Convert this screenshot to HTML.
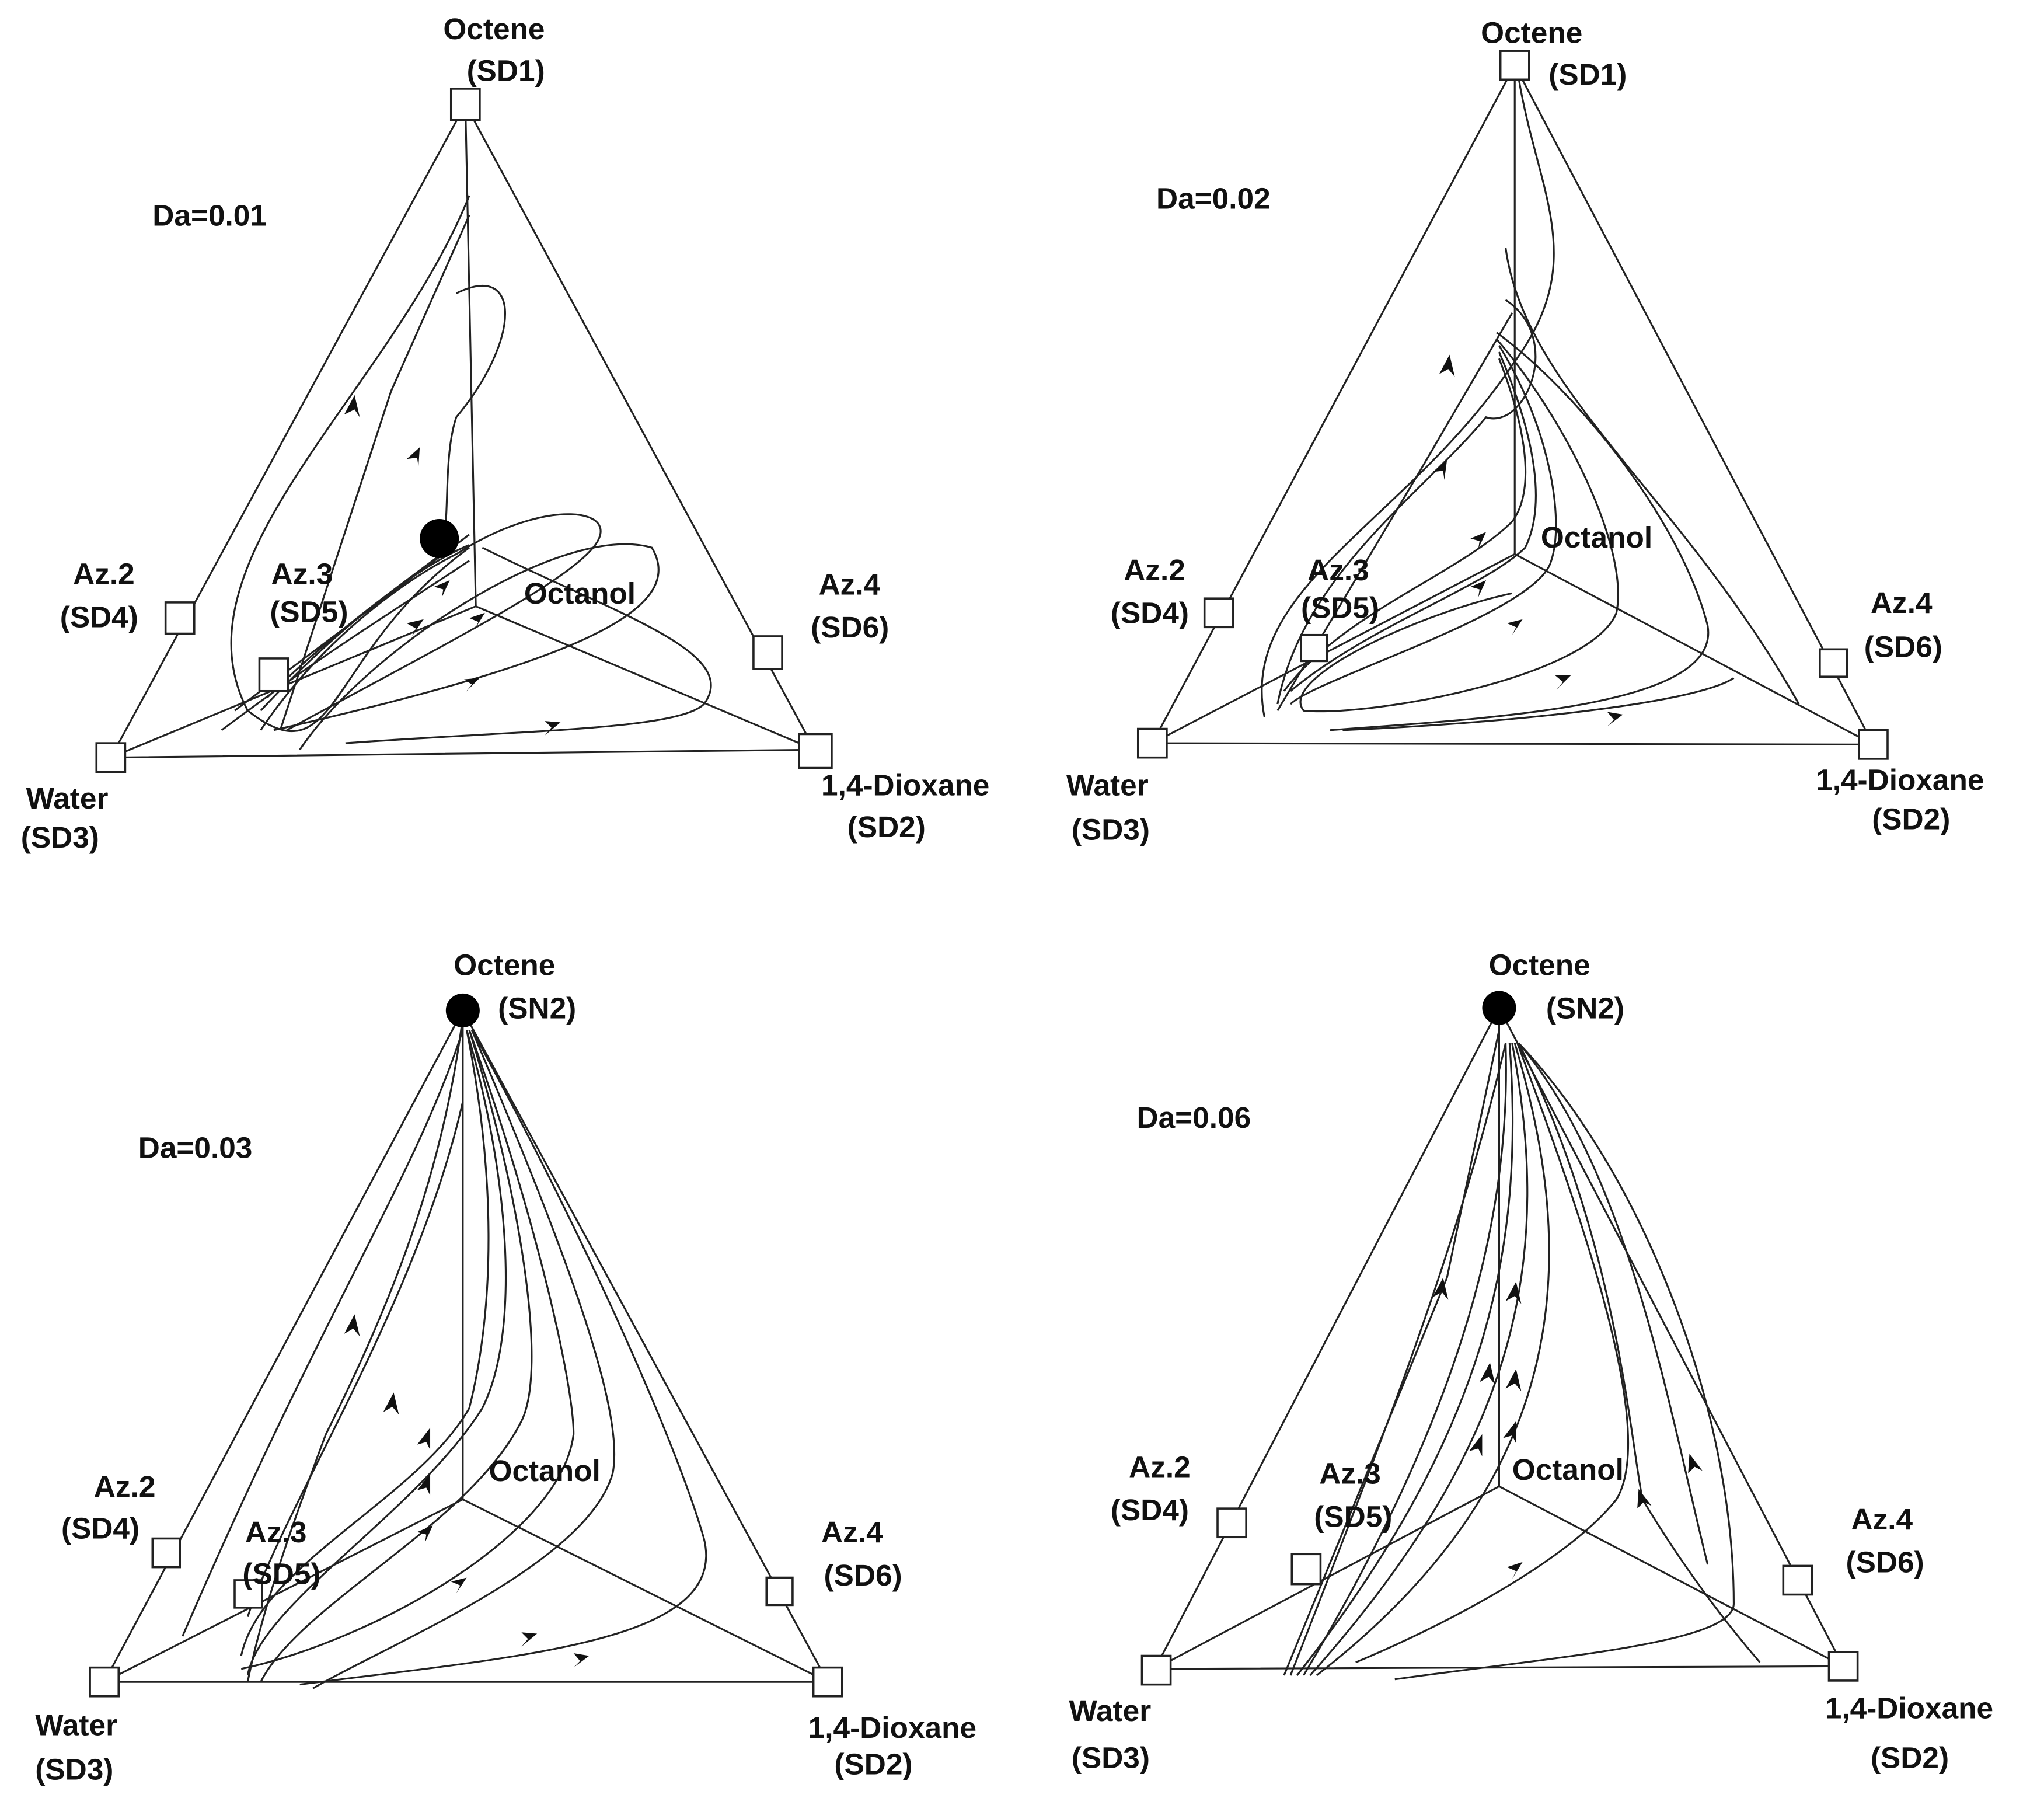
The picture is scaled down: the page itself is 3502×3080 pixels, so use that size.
<!DOCTYPE html>
<html><head><meta charset="utf-8">
<style>
html,body{margin:0;padding:0;background:#fff;}
svg{display:block;}
text{font-family:"Liberation Sans",Arial,sans-serif;font-size:23px;fill:#111;font-weight:bold;}
.l{fill:none;stroke:#222;stroke-width:1.4;}
.b{fill:#fff;stroke:#222;stroke-width:1.6;}
.a{fill:#111;}
</style></head>
<body>
<svg width="3502" height="3080" viewBox="0 0 1568 1379" xmlns="http://www.w3.org/2000/svg">
<rect width="1568" height="1379" fill="#fff"/>

<!-- Panel 1 -->
<g>
<path class="l" d="M357 80 L85 581 L625 575 Z"/>
<path class="l" d="M365 465 L357 80 M365 465 L85 581 M365 465 L625 575"/>
<path class="l" d="M360 150 C300 300 130 430 190 545 C260 600 250 500 360 420"/>
<path class="l" d="M350 225 C400 200 400 260 350 320 C340 350 345 400 340 410"/>
<path class="l" d="M200 560 C240 500 300 450 350 425 C420 380 480 390 455 420 C430 450 330 500 220 560"/>
<path class="l" d="M230 575 C280 500 430 400 500 420 C530 470 430 510 210 560"/>
<path class="l" d="M265 570 C400 560 520 560 540 540 C570 500 470 470 370 420"/>
<path class="l" d="M205 535 C260 480 320 440 345 420 M200 545 C270 470 330 430 360 418"/>
<path class="l" d="M215 560 L300 300 L360 165 M180 545 L360 410"/>
<path class="l" d="M170 560 C250 500 300 470 360 430"/>
<polygon class="a" points="272,303 264,318 272,314 276,320"/>
<polygon class="a" points="322,343 312,352 320,351 321,358"/>
<polygon class="a" points="345,445 333,450 340,452 339,458"/>
<polygon class="a" points="325,475 312,478 319,482 316,488"/>
<polygon class="a" points="372,470 360,474 367,477 364,483"/>
<polygon class="a" points="368,520 356,521 362,525 357,531"/>
<polygon class="a" points="430,554 418,553 423,558 418,564"/>
<circle cx="337" cy="413" r="15" fill="#000"/>
<rect class="b" x="346" y="68" width="22" height="24"/>
<rect class="b" x="74" y="570" width="22" height="22"/>
<rect class="b" x="613" y="563" width="25" height="26"/>
<rect class="b" x="127" y="462" width="22" height="24"/>
<rect class="b" x="199" y="505" width="22" height="25"/>
<rect class="b" x="578" y="488" width="22" height="25"/>
<text x="340" y="30">Octene</text><text x="358" y="62">(SD1)</text>
<text x="117" y="173">Da=0.01</text>
<text x="56" y="448">Az.2</text><text x="46" y="481">(SD4)</text>
<text x="208" y="448">Az.3</text><text x="207" y="477">(SD5)</text>
<text x="402" y="463">Octanol</text>
<text x="628" y="456">Az.4</text><text x="622" y="489">(SD6)</text>
<text x="20" y="620">Water</text><text x="16" y="650">(SD3)</text>
<text x="630" y="610">1,4-Dioxane</text><text x="650" y="642">(SD2)</text>
</g>

<!-- Panel 2 -->
<g>
<path class="l" d="M1162 50 L884 570 L1437 571 Z"/>
<path class="l" d="M1162 425 L1162 50 M1162 425 L884 570 M1162 425 L1437 571"/>
<path class="l" d="M1165 60 C1180 150 1220 200 1160 280 C1080 400 950 450 970 550"/>
<path class="l" d="M1155 190 C1170 300 1290 380 1380 540"/>
<path class="l" d="M1155 230 C1200 260 1170 330 1140 320 C1090 380 1000 440 980 540"/>
<path class="l" d="M1148 255 C1210 300 1290 400 1310 480 C1320 540 1160 550 1020 560"/>
<path class="l" d="M1148 260 C1200 320 1250 420 1240 470 C1220 520 1050 550 1000 545 C980 520 1090 470 1160 455"/>
<path class="l" d="M1150 265 C1190 330 1200 400 1190 430 C1180 470 1010 520 990 540"/>
<path class="l" d="M1150 270 C1180 340 1185 390 1170 420 C1140 450 1050 480 990 530"/>
<path class="l" d="M1150 275 C1175 340 1175 380 1160 400 C1120 440 1030 470 985 530"/>
<path class="l" d="M1030 560 C1150 555 1300 540 1330 520"/>
<path class="l" d="M980 545 L1090 360 L1160 240"/>
<polygon class="a" points="1112,272 1104,287 1111,283 1116,289"/>
<polygon class="a" points="1110,353 1099,362 1107,361 1108,368"/>
<polygon class="a" points="1140,408 1128,413 1135,415 1134,421"/>
<polygon class="a" points="1140,445 1128,450 1135,452 1134,458"/>
<polygon class="a" points="1168,475 1156,478 1163,481 1160,487"/>
<polygon class="a" points="1205,518 1193,518 1199,523 1194,529"/>
<polygon class="a" points="1245,548 1233,546 1238,552 1233,557"/>
<rect class="b" x="1151" y="39" width="22" height="22"/>
<rect class="b" x="873" y="559" width="22" height="22"/>
<rect class="b" x="1426" y="560" width="22" height="22"/>
<rect class="b" x="924" y="459" width="22" height="22"/>
<rect class="b" x="998" y="487" width="20" height="20"/>
<rect class="b" x="1396" y="498" width="21" height="21"/>
<text x="1136" y="33">Octene</text><text x="1188" y="65">(SD1)</text>
<text x="887" y="160">Da=0.02</text>
<text x="862" y="445">Az.2</text><text x="852" y="478">(SD4)</text>
<text x="1003" y="445">Az.3</text><text x="998" y="474">(SD5)</text>
<text x="1182" y="420">Octanol</text>
<text x="1435" y="470">Az.4</text><text x="1430" y="504">(SD6)</text>
<text x="818" y="610">Water</text><text x="822" y="644">(SD3)</text>
<text x="1393" y="606">1,4-Dioxane</text><text x="1436" y="636">(SD2)</text>
</g>

<!-- Panel 3 -->
<g>
<path class="l" d="M355 775 L80 1290 L635 1290 Z"/>
<path class="l" d="M355 1150 L355 775 M355 1150 L80 1290 M355 1150 L635 1290"/>
<path class="l" d="M355 790 C320 900 250 1000 140 1255"/>
<path class="l" d="M355 845 C320 1000 220 1150 190 1240"/>
<path class="l" d="M358 790 C380 900 380 1000 360 1080 C320 1150 200 1200 185 1270"/>
<path class="l" d="M358 790 C390 900 400 1020 370 1080 C320 1160 200 1230 190 1285"/>
<path class="l" d="M360 790 C400 920 420 1050 400 1090 C360 1170 230 1230 200 1290"/>
<path class="l" d="M360 790 C410 930 440 1060 440 1100 C430 1180 280 1260 185 1280"/>
<path class="l" d="M362 790 C430 950 480 1080 470 1130 C450 1200 300 1260 240 1295"/>
<path class="l" d="M362 790 C450 950 520 1110 540 1180 C560 1260 400 1270 230 1292"/>
<path class="l" d="M355 780 C340 900 300 1000 250 1100 C220 1180 200 1240 190 1290"/>
<polygon class="a" points="272,1008 264,1023 271,1019 276,1025"/>
<polygon class="a" points="302,1068 294,1083 301,1079 306,1085"/>
<polygon class="a" points="330,1095 320,1108 327,1106 330,1112"/>
<polygon class="a" points="330,1130 320,1143 327,1141 330,1147"/>
<polygon class="a" points="332,1170 320,1175 327,1177 326,1183"/>
<polygon class="a" points="358,1210 346,1213 353,1216 350,1222"/>
<polygon class="a" points="412,1253 400,1252 405,1257 400,1263"/>
<polygon class="a" points="452,1270 440,1268 445,1274 440,1279"/>
<circle cx="355" cy="775" r="13" fill="#000"/>
<rect class="b" x="69" y="1279" width="22" height="22"/>
<rect class="b" x="624" y="1279" width="22" height="22"/>
<rect class="b" x="117" y="1180" width="21" height="22"/>
<rect class="b" x="180" y="1212" width="21" height="21"/>
<rect class="b" x="588" y="1210" width="20" height="21"/>
<text x="348" y="748">Octene</text><text x="382" y="781">(SN2)</text>
<text x="106" y="888">Da=0.03</text>
<text x="72" y="1148">Az.2</text><text x="47" y="1180">(SD4)</text>
<text x="188" y="1183">Az.3</text><text x="186" y="1215">(SD5)</text>
<text x="375" y="1136">Octanol</text>
<text x="630" y="1183">Az.4</text><text x="632" y="1216">(SD6)</text>
<text x="27" y="1331">Water</text><text x="27" y="1365">(SD3)</text>
<text x="620" y="1333">1,4-Dioxane</text><text x="640" y="1361">(SD2)</text>
</g>

<!-- Panel 4 -->
<g>
<path class="l" d="M1150 773 L886 1280 L1414 1278 Z"/>
<path class="l" d="M1150 1140 L1150 773 M1150 1140 L886 1280 M1150 1140 L1414 1278"/>
<path class="l" d="M1155 800 C1120 950 1070 1080 990 1285"/>
<path class="l" d="M1155 800 C1160 950 1110 1100 1000 1285"/>
<path class="l" d="M1158 800 C1170 960 1140 1100 995 1285"/>
<path class="l" d="M1160 800 C1190 960 1170 1100 1005 1285"/>
<path class="l" d="M1162 800 C1210 960 1210 1130 1010 1285"/>
<path class="l" d="M1164 800 C1220 950 1270 1100 1240 1150 C1200 1200 1100 1250 1040 1275"/>
<path class="l" d="M1165 800 C1240 950 1250 1100 1260 1150 C1290 1200 1320 1240 1350 1275"/>
<path class="l" d="M1165 800 C1260 900 1330 1080 1330 1230 C1330 1260 1200 1270 1070 1288"/>
<path class="l" d="M1165 800 C1250 900 1280 1080 1310 1200"/>
<path class="l" d="M985 1285 L1110 980 L1150 790"/>
<polygon class="a" points="1107,980 1099,995 1106,991 1111,997"/>
<polygon class="a" points="1163,983 1155,998 1162,994 1167,1000"/>
<polygon class="a" points="1143,1045 1135,1060 1142,1056 1147,1062"/>
<polygon class="a" points="1163,1050 1155,1065 1162,1061 1167,1067"/>
<polygon class="a" points="1137,1100 1127,1113 1134,1111 1137,1117"/>
<polygon class="a" points="1163,1090 1153,1103 1160,1101 1163,1107"/>
<polygon class="a" points="1168,1198 1156,1202 1163,1205 1160,1211"/>
<polygon class="a" points="1257,1142 1256,1157 1261,1152 1267,1155"/>
<polygon class="a" points="1296,1115 1295,1130 1300,1125 1306,1128"/>
<circle cx="1150" cy="773" r="13" fill="#000"/>
<rect class="b" x="876" y="1270" width="22" height="22"/>
<rect class="b" x="1403" y="1267" width="22" height="22"/>
<rect class="b" x="934" y="1157" width="22" height="22"/>
<rect class="b" x="991" y="1192" width="22" height="23"/>
<rect class="b" x="1368" y="1201" width="22" height="22"/>
<text x="1142" y="748">Octene</text><text x="1186" y="781">(SN2)</text>
<text x="872" y="865">Da=0.06</text>
<text x="866" y="1133">Az.2</text><text x="852" y="1166">(SD4)</text>
<text x="1012" y="1138">Az.3</text><text x="1008" y="1171">(SD5)</text>
<text x="1160" y="1135">Octanol</text>
<text x="1420" y="1173">Az.4</text><text x="1416" y="1206">(SD6)</text>
<text x="820" y="1320">Water</text><text x="822" y="1356">(SD3)</text>
<text x="1400" y="1318">1,4-Dioxane</text><text x="1435" y="1356">(SD2)</text>
</g>
</svg>
</body></html>
